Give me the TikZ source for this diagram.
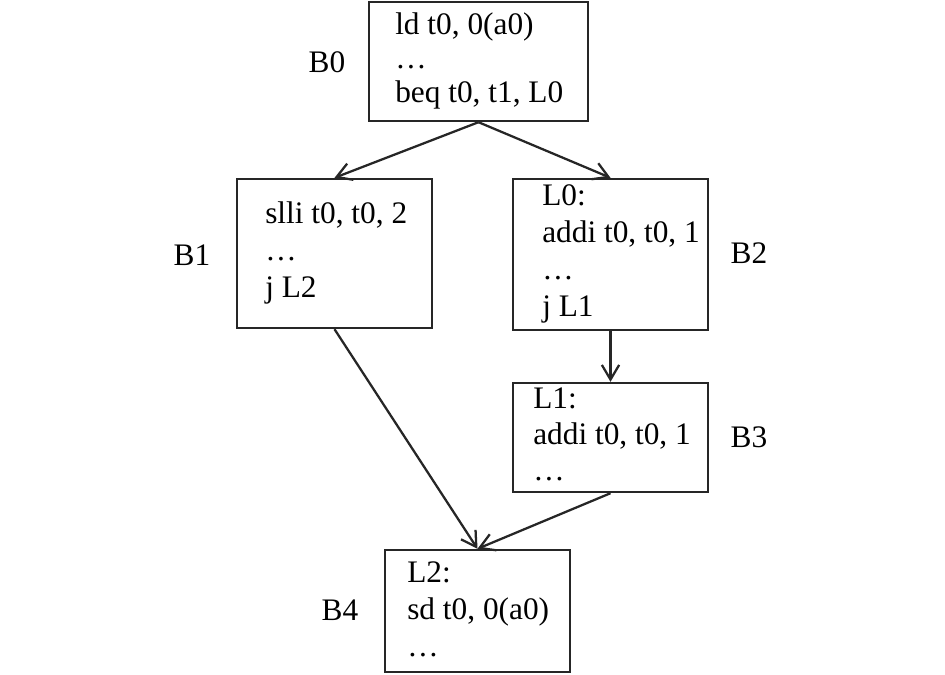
\documentclass[tikz,border=0pt]{standalone}
\usepackage{fontspec}
\setmainfont{Liberation Serif}
\usetikzlibrary{arrows.meta,fit}
\tikzset{
  box/.style={draw=black!85, line width=1.8pt, inner sep=0pt},
  code/.style={anchor=base west, inner sep=0pt, font=\fontsize{23.5}{27.75}\selectfont},
  blabel/.style={inner sep=0pt, font=\fontsize{23.5}{27.75}\selectfont},
  flow/.style={draw=black!85, line width=1.7pt, -{Straight Barb[length=11pt,width=13pt,line width=1.7pt]}},
}
\newcommand\codeblock[2]{\vtop{\baselineskip=#1\relax #2}}
\begin{document}
\begin{tikzpicture}[x=0.75pt,y=-0.75pt]
\useasboundingbox (0,0) rectangle (945,674);
% boxes
\node[box, fit={(369,2) (588,121)}] (b0) {};
\node[box, fit={(237,179) (432,328)}] (b1) {};
\node[box, fit={(513,179) (708,330)}] (b2) {};
\node[box, fit={(513,383) (708,492)}] (b3) {};
\node[box, fit={(385,550) (570,672)}] (b4) {};
% code
\node[code] (t0) at (395,35) {\codeblock{25.5pt}{\hbox{ld t0, 0(a0)}\hbox{…}\hbox{beq t0, t1, L0}}};
\node[code] (t1) at (265,223) {\codeblock{27.75pt}{\hbox{slli t0, t0, 2}\hbox{…}\hbox{j L2}}};
\node[code] (t2) at (542,205) {\codeblock{27.75pt}{\hbox{L0:}\hbox{addi t0, t0, 1}\hbox{…}\hbox{j L1}}};
\node[code] (t3) at (533,408) {\codeblock{27pt}{\hbox{L1:}\hbox{addi t0, t0, 1}\hbox{…}}};
\node[code] (t4) at (407,582) {\codeblock{27.75pt}{\hbox{L2:}\hbox{sd t0, 0(a0)}\hbox{…}}};
% labels
\node[blabel] (l0) at (327,62) {B0};
\node[blabel] (l1) at (192,255) {B1};
\node[blabel] (l2) at (749,253) {B2};
\node[blabel] (l3) at (749,437) {B3};
\node[blabel] (l4) at (340,610) {B4};
% arrows
\draw[flow] (b0.south) -- (b1.north);
\draw[flow] (b0.south) -- (b2.north);
\draw[flow] (b2.south) -- (b3.north);
\draw[flow] (b1.south) -- (b4.north);
\draw[flow] (b3.south) -- (b4.north);
\end{tikzpicture}
\end{document}
